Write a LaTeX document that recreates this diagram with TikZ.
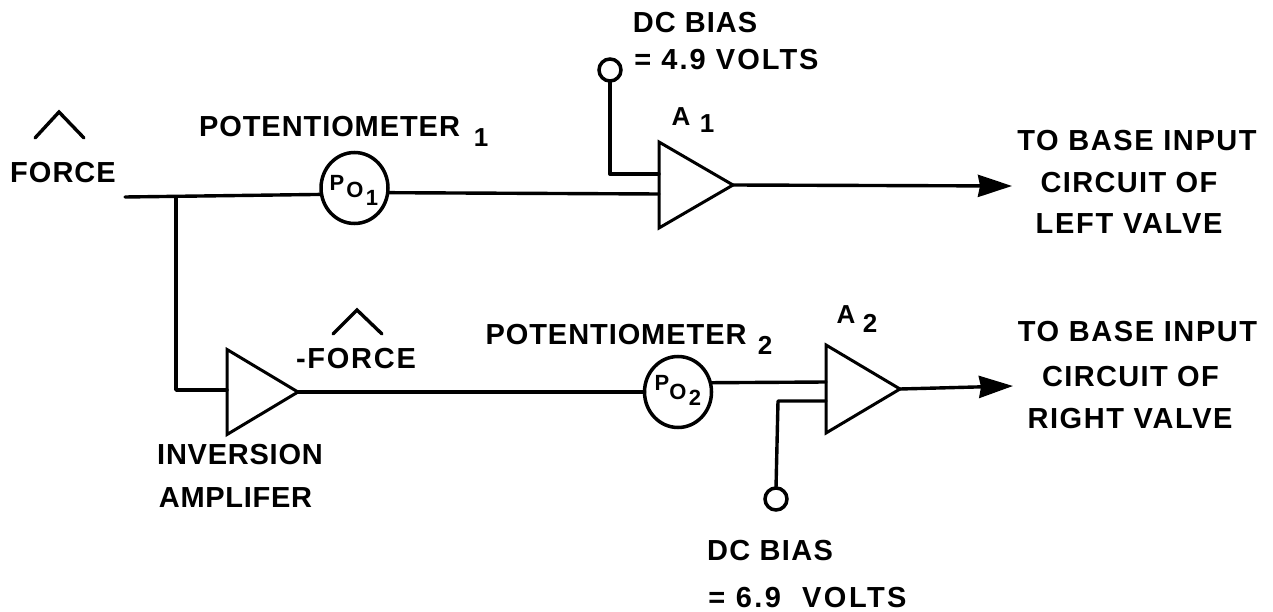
\documentclass[tikz,border=0pt]{standalone}
\usepackage{fontspec}
\setmainfont{Liberation Sans}
\usetikzlibrary{shapes.geometric,arrows.meta}
\tikzset{
  lab/.style={font=\fontsize{29}{30}\selectfont\bfseries\addfontfeature{LetterSpace=#1},inner sep=0pt,anchor=center,text=black},
  lab/.default=0,
  sub/.style={font=\fontsize{26}{27}\selectfont\bfseries,inner sep=0pt,anchor=center,text=black},
  small/.style={font=\fontsize{22}{23}\selectfont\bfseries,inner sep=0pt,anchor=center,text=black},
  pot/.style={ellipse,draw=black,line width=3.5pt,minimum width=67pt,minimum height=71pt,inner sep=0pt,outer sep=0pt},
  term/.style={circle,draw=black,line width=3.5pt,minimum size=22pt,inner sep=0pt,outer sep=0pt},
  amp/.style={isosceles triangle,isosceles triangle stretches,draw=black,line width=3pt,
     inner sep=0pt,outer sep=0pt,anchor=lower side},
  wire/.style={line width=3.4pt,draw=black,line cap=round,line join=round},
  arrowwire/.style={wire,-{Stealth[inset=2pt,length=34pt,width=22pt]}},
  caret/.style={line width=3.4pt,draw=black,line cap=round,line join=miter}
}
\begin{document}
\begin{tikzpicture}[x=1pt,y=-1pt]
\useasboundingbox (0,0) rectangle (1273,612);
% components
\node[pot] (po1) at (354.5,188) {};
\node[pot] (po2) at (678,392) {};
\node[term] (b1) at (610,70) {};
\node[term] (b2) at (776,499) {};
\node[amp,minimum height=74pt,minimum width=86pt] (a1) at (659,185) {};
\node[amp,minimum height=74pt,minimum width=88pt] (a2) at (826,389) {};
\node[amp,minimum height=71pt,minimum width=85pt] (inv) at (227,392) {};
% free ends
\coordinate (start) at (125,197);
\coordinate (junc) at (176,197);
\coordinate (invin) at (227,390);
\coordinate (a1top) at (659,174);
\coordinate (a1bot) at (659,194);
\coordinate (a2top) at (826,382);
\coordinate (a2bot) at (826,401);
\coordinate (out1) at (1012,186);
\coordinate (out2) at (1013,386);
% wires
\draw[wire] (start) -- (po1.191);
\draw[wire] (po1.-8) -- (a1bot);
\draw[wire] (junc) -- (176,390) -- (invin);
\draw[wire] (b1.south) -- (610,174) -- (a1top);
\draw[wire] (inv.apex) -- (po2.west);
\draw[wire] (po2.16) -- (a2top);
\draw[wire] (b2.north) -- (778,401) -- (a2bot);
\draw[arrowwire] (a1.apex) -- (out1);
\draw[arrowwire] (a2.apex) -- (out2);
% carets
\draw[caret] (35,138) -- (59,112) -- (84,138);
\draw[caret] (333,334) -- (357,310) -- (382,334);
% labels
\node[lab=3.5] (force) at (63,173) {FORCE};
\node[lab=3.2] (potl1) at (329.5,127) {POTENTIOMETER};
\node[sub] (potn1) at (481,138) {1};
\node[lab=3.5] (dc1) at (695,23) {DC BIAS};
\node[lab=7] (v1) at (726.5,60) {= 4.9 VOLTS};
\node[sub] (al1) at (681,117) {A};
\node[sub] (an1) at (707,124) {1};
\node[small] (p1) at (337,183) {P};
\node[small] (o1) at (355,190) {O};
\node[small] (s1) at (372,198) {1};
\node[lab=5.5] (t1a) at (1137,141) {TO BASE INPUT};
\node[lab=4.6] (t1b) at (1129,183) {CIRCUIT OF};
\node[lab=6] (t1c) at (1129,224) {LEFT VALVE};
\node[lab=6] (mf) at (356,359) {-FORCE};
\node[lab=3.2] (potl2) at (616,335) {POTENTIOMETER};
\node[sub] (potn2) at (765,345) {2};
\node[small] (p2) at (662,383) {P};
\node[small] (o2) at (678,392) {O};
\node[small] (s2) at (695,398) {2};
\node[sub] (al2) at (846,315) {A};
\node[sub] (an2) at (870,323) {2};
\node[lab=5.5] (t2a) at (1137.5,332) {TO BASE INPUT};
\node[lab=4.6] (t2b) at (1130.5,377) {CIRCUIT OF};
\node[lab=5.5] (t2c) at (1130,419) {RIGHT VALVE};
\node[lab=2.6] (inva) at (240,455) {INVERSION};
\node[lab=2.4] (invb) at (235.5,498) {AMPLIFER};
\node[lab=4.6] (dc2) at (770,551) {DC BIAS};
\node[lab=8.5] (v2) at (807.5,598) {= 6.9\ \ VOLTS};
\end{tikzpicture}
\end{document}
